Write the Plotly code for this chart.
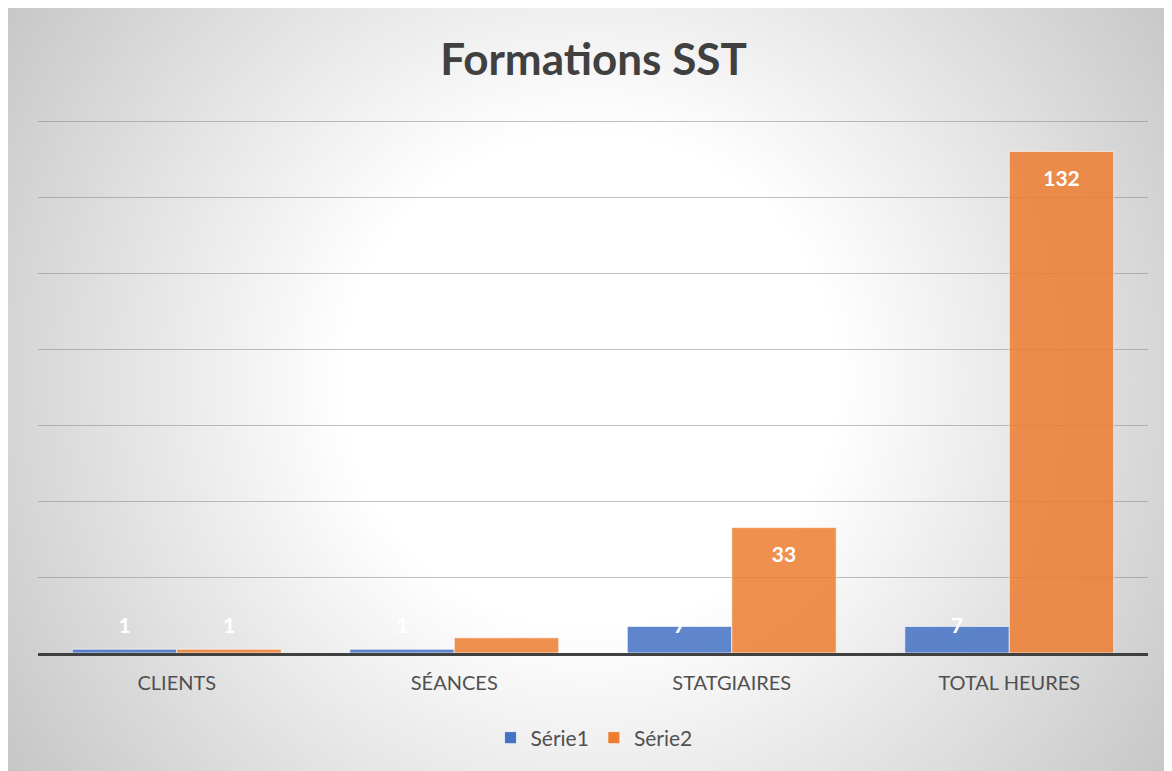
import numpy as np
import plotly.graph_objects as go

# ---- data ----
categories = ["CLIENTS", "SÉANCES", "STATGIAIRES", "TOTAL HEURES"]
serie1 = [1, 1, 7, 7]
serie2 = [1, 4, 33, 132]
series_names = ["Série1", "Série2"]
title_text = "Formations SST"

W, H = 1164, 763
FONT = "Lato"

fig = go.Figure()

# ---- radial gradient background (decoration) on a full-page hidden axis ----
xs = np.linspace(0, W, 118)
ys = np.linspace(0, H, 78)
X, Y = np.meshgrid(xs, ys)
cx, cy = 582, 372
R = np.hypot(max(cx, W - cx), max(cy, H - cy))
t = np.hypot(X - cx, Y - cy) / R
g = np.where(t < 0.35, 255.0, 255.0 - 57.0 * (t - 0.35) / 0.65)
fig.add_trace(go.Heatmap(
    x=xs, y=ys, z=g, zmin=198, zmax=255,
    colorscale=[[0, "#c6c6c6"], [1, "#ffffff"]],
    showscale=False, zsmooth="best", hoverinfo="skip",
    xaxis="x", yaxis="y",
))

colors = ["#4472C4", "#ED7D31"]
for name, vals, col in zip(series_names, [serie1, serie2], colors):
    fig.add_trace(go.Bar(
        x=categories, y=vals, name=name,
        marker=dict(color=col, opacity=0.85,
                    line=dict(color="rgba(255,255,255,0.7)", width=1)),
        xaxis="x2", yaxis="y2", offsetgroup=name,
    ))

# data labels (inside end, kept above the axis for short bars)
for name, vals in zip(series_names, [serie1, serie2]):
    fig.add_trace(go.Scatter(
        x=categories, y=[max(v - 7.6, 6.6) for v in vals],
        text=[str(v) for v in vals], mode="text",
        textfont=dict(family=FONT, size=21, color="white", weight=700),
        xaxis="x2", yaxis="y2", offsetgroup=name, showlegend=False,
        hoverinfo="skip",
    ))

Y_TOP = 140.5
fig.update_layout(
    width=W, height=H,
    margin=dict(l=0, r=0, t=0, b=0),
    paper_bgcolor="#c8c8c8", plot_bgcolor="rgba(0,0,0,0)",
    barmode="group", bargap=0.247, bargroupgap=0,
    scattermode="group", scattergap=0.247,
    title=dict(text=title_text, x=585.5 / W, xanchor="center",
               y=(H - 52) / H, yanchor="middle",
               font=dict(family=FONT, size=44, color="#404040", weight=700)),
    xaxis=dict(domain=[0, 1], range=[0, W], visible=False, fixedrange=True),
    yaxis=dict(domain=[0, 1], range=[H, 0], visible=False, fixedrange=True),
    xaxis2=dict(domain=[30 / W, 1140 / W], anchor="y2", showgrid=False,
                showline=True, linecolor="#404040", linewidth=3,
                ticks="", ticklabelstandoff=10,
                tickfont=dict(family=FONT, size=20, color="#505050")),
    yaxis2=dict(domain=[(H - 645) / H, (H - 113 + 0.5 * 3.8) / H], anchor="x2",
                range=[0, Y_TOP], tickvals=[20, 40, 60, 80, 100, 120, 140],
                showticklabels=False,
                gridcolor="rgba(130,130,130,0.5)", gridwidth=1,
                zeroline=False),
    legend=dict(orientation="h", x=586 / W, xanchor="center",
                y=(H - 730) / H, yanchor="middle",
                font=dict(family=FONT, size=21, color="#505050"),
                bgcolor="rgba(0,0,0,0)"),
    showlegend=True,
)

fig.write_html(
    "out.html",
    post_script="document.documentElement.style.overflow='hidden';"
                "document.body.style.overflow='hidden';",
)
